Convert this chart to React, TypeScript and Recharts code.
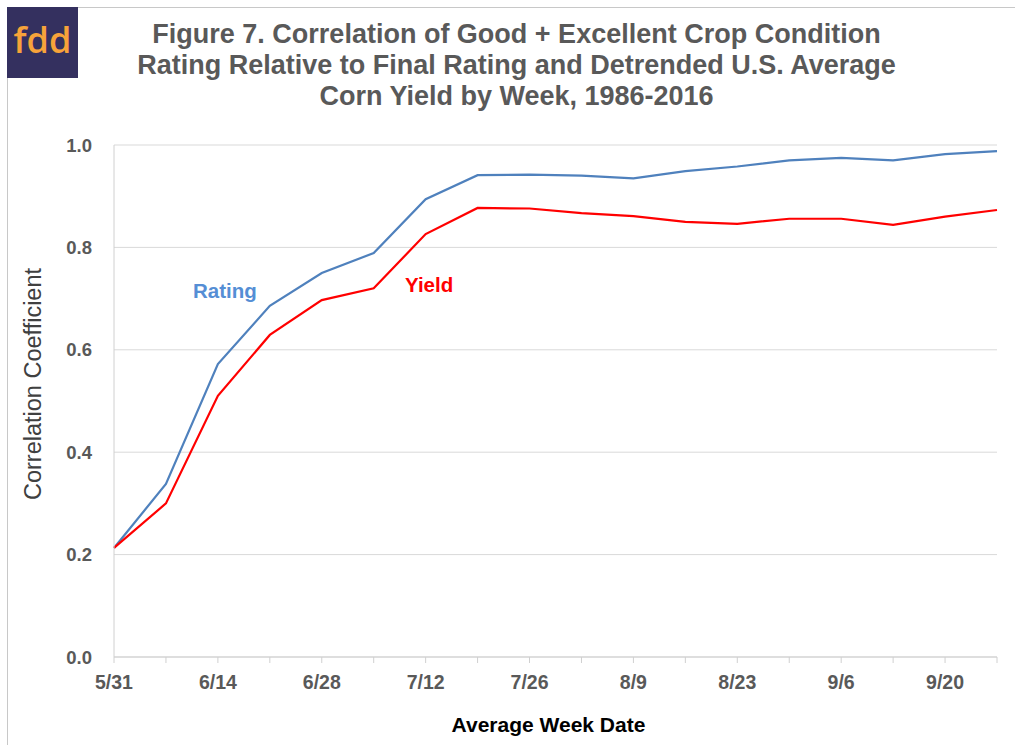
import { LineChart, Line, XAxis, YAxis, CartesianGrid } from 'recharts';

const weeks = ['5/31', '6/7', '6/14', '6/21', '6/28', '7/5', '7/12', '7/19', '7/26', '8/2', '8/9', '8/16', '8/23', '8/30', '9/6', '9/13', '9/20', '9/27'];
const rating = [0.213, 0.338, 0.572, 0.686, 0.75, 0.789, 0.894, 0.941, 0.942, 0.94, 0.935, 0.949, 0.958, 0.97, 0.975, 0.97, 0.982, 0.988];
const yieldCorr = [0.213, 0.30, 0.51, 0.629, 0.697, 0.72, 0.826, 0.877, 0.876, 0.867, 0.861, 0.85, 0.846, 0.856, 0.856, 0.844, 0.86, 0.873];
const yTicks = [0, 0.2, 0.4, 0.6, 0.8, 1.0];

const data = weeks.map((w, i) => ({ week: w, rating: rating[i], yield: yieldCorr[i] }));

const FONT = 'Arial, "Liberation Sans", Helvetica, sans-serif';
const GRAY = '#595959';

// only every other week gets a label, tick marks stay on all of them
function WeekTick({ x, y, payload, index }: any) {
  if (index % 2 !== 0) return null;
  return (
    <text x={x} y={y + 24} textAnchor="middle" fill={GRAY} fontSize={19.5} fontWeight={700} fontFamily={FONT}>
      {payload.value}
    </text>
  );
}

export default function App() {
  return (
    <div style={{ position: 'absolute', left: 0, top: 0, width: 1015, height: 745, background: '#fff', fontFamily: FONT }}>
      <div style={{ position: 'absolute', left: 7, top: 7, right: 0, bottom: 0, borderTop: '1px solid #c8c8c8', borderLeft: '1px solid #c8c8c8' }} />
      {/* logo */}
      <div style={{
        position: 'absolute', left: 7, top: 7, width: 71, height: 71, background: '#34305f',
        color: '#f7a33a', fontSize: 36, fontWeight: 600, display: 'flex', alignItems: 'center', justifyContent: 'center',
        paddingBottom: 6, boxSizing: 'border-box', fontFamily: '"Open Sans", sans-serif',
      }}>fdd</div>

      <div style={{
        position: 'absolute', left: 0, width: 1033, top: 19, textAlign: 'center', color: GRAY,
        fontSize: 27, fontWeight: 700, lineHeight: '31px',
      }}>
        Figure 7. Correlation of Good + Excellent Crop Condition<br />
        Rating Relative to Final Rating and Detrended U.S. Average<br />
        Corn Yield by Week, 1986-2016
      </div>

      <LineChart width={1015} height={745} data={data} margin={{ top: 145, right: 18, bottom: 58, left: 0 }}
        style={{ position: 'absolute', left: 0, top: 0 }}>
        <CartesianGrid vertical={false} stroke="#d9d9d9" strokeWidth={1} />
        <XAxis dataKey="week" interval={0} tick={<WeekTick />} height={30} stroke="#d0d0d0" tickLine={{ stroke: '#d0d0d0' }} tickSize={6}
          label={{ value: 'Average Week Date', position: 'insideBottom', offset: -45, fill: '#000', fontSize: 21, fontWeight: 700, fontFamily: FONT, dx: -7 }} />
        <YAxis domain={[0, 1]} ticks={yTicks} tickFormatter={(v: number) => v.toFixed(1)} width={114} stroke="#d0d0d0" tickLine={false}
          tick={{ fill: GRAY, fontSize: 18.5, fontWeight: 700, fontFamily: FONT, dx: -14 }}
          label={{ value: 'Correlation Coefficient', angle: -90, position: 'insideLeft', offset: 33, dy: -17, fill: '#404040', fontSize: 23.5, fontFamily: FONT, style: { textAnchor: 'middle' } }} />
        <Line dataKey="rating" stroke="#4f81bd" strokeWidth={2.2} dot={false} isAnimationActive={false} />
        <Line dataKey="yield" stroke="#ff0000" strokeWidth={2.2} dot={false} isAnimationActive={false} />
      </LineChart>

      <div style={{ position: 'absolute', left: 193, top: 279, color: '#558ed5', fontSize: 20.5, fontWeight: 700 }}>Rating</div>
      <div style={{ position: 'absolute', left: 405, top: 273, color: '#ff0000', fontSize: 20.5, fontWeight: 700 }}>Yield</div>
    </div>
  );
}
